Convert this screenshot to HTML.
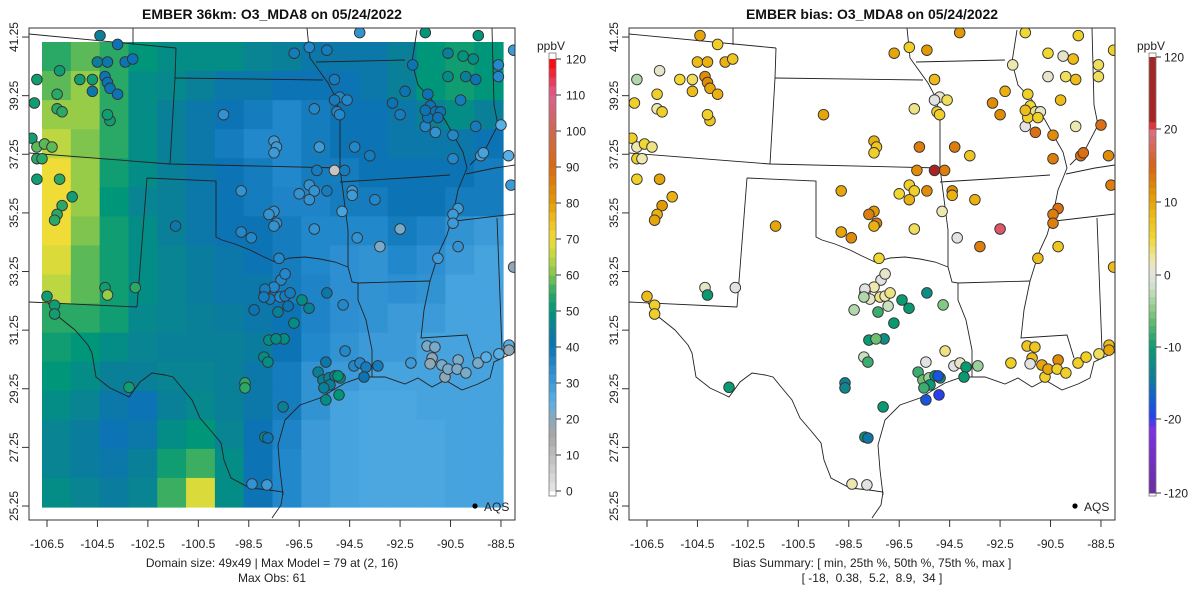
<!DOCTYPE html>
<html><head><meta charset="utf-8"><style>
body{margin:0;background:#fff;}
svg text{font-family:"Liberation Sans",sans-serif;}
</style></head><body>
<svg id="chart" width="1200" height="600" viewBox="0 0 1200 600" xmlns="http://www.w3.org/2000/svg">
<defs>
<clipPath id="clipL"><rect x="29" y="28" width="486" height="492"/></clipPath>
<clipPath id="clipR"><rect x="629" y="28" width="486" height="492"/></clipPath>
</defs>
<g id="left"></g>
<g id="right"></g>
</svg>
<script>
// ---- data ----
const gridRows = [
[55,58,55,50,48,48,48,46,45,42,42,42,45,50,52,50],
[58,62,55,48,47,45,42,42,40,40,40,42,45,50,52,50],
[62,62,55,48,45,42,40,38,35,38,40,40,42,45,48,45],
[65,60,55,48,45,42,38,35,35,38,40,40,42,42,42,40],
[70,62,52,48,45,42,40,38,35,38,38,40,40,40,40,38],
[70,62,50,46,45,42,40,38,36,36,38,38,40,40,38,38],
[70,60,52,48,45,42,40,40,38,35,35,35,38,36,32,30],
[68,58,52,48,46,44,42,40,38,35,33,32,35,33,30,28],
[65,58,52,48,46,44,42,42,38,36,33,32,33,32,28,28],
[55,55,52,47,46,45,44,42,40,36,33,32,30,30,28,28],
[52,50,48,46,45,45,45,44,40,35,32,30,30,28,28,28],
[50,48,45,45,46,46,45,42,38,32,30,28,28,28,28,28],
[48,46,42,40,45,47,45,42,38,32,28,27,27,28,28,28],
[46,44,40,42,48,50,46,40,36,30,28,27,27,27,28,28],
[46,44,42,45,52,56,48,40,35,30,28,27,27,27,28,28],
[48,46,44,46,56,68,48,40,35,30,28,27,27,27,28,28]];
const stLon = [-104.4,-103.7,-106.9,-106.0,-105.2,-104.5,-104.1,-103.4,-103.1,-104.7,-104.2,-104.1,-104.0,-103.7,-104.7,-107.0,-106.1,-106.1,-105.9,-104.0,-104.1,-107.1,-106.9,-106.6,-106.3,-106.9,-106.7,-106.9,-106.0,-105.5,-105.9,-106.1,-106.2,-106.5,-106.2,-106.2,-101.4,-104.2,-103.0,-104.1,-103.25,
-96.7,-96.1,-94.1,-95.4,-95.1,-94.9,-94.6,-95.1,-95.9,-95.0,-94.9,-99.5,-97.5,-97.4,-97.5,-95.7,-94.3,-93.7,-94.7,-95.1,-95.8,-96.1,-95.9,-96.1,-96.5,-95.4,-98.8,-97.5,-97.4,-97.7,-97.5,-98.8,-98.4,-95.9,-97.3,-94.4,-94.4,-93.5,-94.8,-92.5,-94.2,-93.3,-91.0,-90.2,-90.2,-90.4,-90.4,-89.3,-89.2,-88.2,-90.4,-91.1,-90.4,-91.5,-89.5,-88.5,-89.5,-88.6,-88.6,-91.4,-90.1,-90.6,-90.0,-89.6,-90.6,-89.9,-92.3,-92.8,-92.5,-92.0,-91.5,-89.4,-88.0,-91.3,-91.1,-90.9,-91.4,-91.0,-91.5,-88.1,-88.0,
-97.86,-97.66,-97.26,-97.06,-96.86,-97.22,-97.06,-97.5,-97.86,-97.9,-96.94,-96.39,-98.29,-97.34,-96.11,-94.76,-95.4,-96.71,-97.1,-97.7,-97.42,-97.9,-97.74,-98.65,-98.65,-95.44,-94.68,-95.75,-95.56,-95.32,-95.08,-94.88,-95.28,-95.52,-94.96,-94.92,-95.44,-94.33,-94.09,-93.85,-93.93,-93.38,-97.14,-97.86,-97.74,-98.37,-97.78,
-92.07,-91.43,-91.12,-91.23,-91.31,-90.84,-90.72,-90.6,-90.2,-90.24,-89.89,-89.41,-89.09,-88.58,-88.18,-88.18];
const stLat = [41.3,41.0,39.8,40.1,39.8,40.4,40.4,40.4,40.5,39.8,39.9,39.7,39.5,39.3,39.4,39.0,39.3,38.8,38.7,38.4,38.6,37.8,37.5,37.6,37.5,37.1,37.1,36.4,36.4,35.8,35.5,35.2,35.0,32.4,32.1,31.8,34.8,32.7,32.7,32.45,29.3,
40.7,40.9,41.4,40.8,39.8,39.2,39.1,39.1,38.8,38.7,38.6,38.6,37.7,37.5,37.3,37.5,37.5,37.2,36.7,36.7,36.7,36.2,36.0,35.7,35.9,36.0,36.0,35.3,34.9,35.2,34.8,34.6,34.4,34.7,33.7,36.0,35.85,35.7,35.3,34.7,34.4,34.1,33.7,34.1,35.4,35.2,34.9,37.2,37.3,37.2,37.1,38.0,37.9,38.2,38.2,38.25,39.8,40.3,39.9,39.3,39.1,40.7,40.6,40.5,39.9,39.9,39.4,39.0,38.6,40.3,41.4,41.3,40.8,38.9,38.7,38.7,38.5,38.5,38.75,36.2,33.4,
32.52,32.31,32.38,32.41,32.52,32.96,33.17,32.72,32.65,32.38,32.07,32.28,31.94,31.87,32.0,32.11,32.52,31.49,30.95,30.91,30.95,30.33,30.16,29.45,29.28,30.16,30.54,29.82,29.55,29.62,29.69,29.62,29.38,29.28,29.69,29.04,28.87,30.03,30.13,29.99,29.65,30.03,28.63,27.6,27.57,26.0,25.97,
30.13,30.71,30.67,30.3,30.1,30.06,29.65,29.92,30.23,29.92,29.79,30.13,30.33,30.44,30.74,30.57];
const stObs = [45,40,52,52,52,45,42,40,40,52,40,40,40,40,42,52,55,55,55,52,52,52,58,58,58,55,55,52,55,52,55,55,55,52,52,52,42,52,55,62,52,
38,35,32,38,38,35,35,38,35,35,35,32,30,30,30,30,35,38,38,8,38,32,32,32,32,38,32,32,32,32,32,35,35,32,35,30,30,35,28,22,32,22,30,32,30,30,30,28,28,25,35,32,35,35,38,25,40,35,35,40,38,45,50,48,48,45,40,40,38,40,50,50,30,40,40,40,40,40,40,30,20,
35,38,35,38,38,35,35,35,38,38,40,48,40,45,45,35,42,48,48,48,48,48,48,55,55,42,35,45,45,45,45,48,45,45,50,50,48,35,35,38,40,38,45,48,40,32,30,
30,22,22,20,20,22,20,22,22,22,22,22,25,25,25,20];
const stBias = [10,6,-3,1,5,8,9,9,7,4,12,12,10,9,8,6,6,2,6,7,6,6,2,5,3,6,2,6,10,9,11,9,10,8,6,6,10,1,0,-10,-10,
10,6,11,11,8,1,4,0,3,6,6,10,9,7,6,13,13,7,13,34,12,6,6,9,5,12,10,11,13,13,9,10,12,4,5,12,9,9,2,22,0,13,8,7,14,13,13,14,14,12,13,14,12,0,2,14,8,4,4,6,8,5,1,8,1,4,9,12,12,2,5,6,6,5,3,1,6,6,8,13,8,
0,1,3,2,3,0,1,2,0,-3,-2,-10,-3,-8,-10,-5,-12,-10,-12,-10,-6,-2,-8,-14,-13,0,3,-8,-6,-4,-10,-12,-10,-8,-18,-20,-18,0,1,-10,-10,-4,-10,-10,-15,2,0,
6,7,7,8,0,10,6,10,12,6,6,6,6,4,8,10];
const xTickLabels = ["-106.5","-104.5","-102.5","-100.5","-98.5","-96.5","-94.5","-92.5","-90.5","-88.5"];
const yTickLabels = ["25.25","27.25","29.25","31.25","33.25","35.25","37.25","39.25","41.25"];
const obsTicks = [0,10,20,30,40,50,60,70,80,90,100,110,120];
const biasTicks = [-120,-20,-10,0,10,20,120];

// ---- scales / colours ----
const X = lon => 47 + (lon + 106.5) * 25.22;
const Y = lat => 506 - (lat - 25.25) * 29.31;
function hex(h){return [parseInt(h.slice(1,3),16),parseInt(h.slice(3,5),16),parseInt(h.slice(5,7),16)];}
function ramp(stops, v){
  if(v<=stops[0][0]) return stops[0][1];
  for(let i=1;i<stops.length;i++){ if(v<=stops[i][0]){const a=stops[i-1],b=stops[i];const t=(v-a[0])/(b[0]-a[0]);const c1=hex(a[1]),c2=hex(b[1]);return 'rgb('+c1.map((c,k)=>Math.round(c+(c2[k]-c)*t)).join(',')+')';}}
  return stops[stops.length-1][1];
}
const obsStops=[[0,'#e6e6e6'],[15,'#a8a8a8'],[20,'#8fa8b8'],[25,'#56b0e6'],[30,'#3d9ad8'],[35,'#2288cc'],[40,'#0c74b4'],[45,'#0a7f98'],[50,'#00967a'],[55,'#2aa866'],[60,'#7ec44e'],[65,'#bcd742'],[70,'#efdc36'],[75,'#f0c020'],[80,'#e59a05'],[90,'#d86a10'],[100,'#cc6850'],[110,'#dd6090'],[120,'#ff0000']];
const biasStops=[[-120,'#6a2ea0'],[-30,'#8030e8'],[-20,'#2840f0'],[-17,'#1060d0'],[-14,'#107f95'],[-10,'#0a9a72'],[-6,'#6cc070'],[-2,'#c8e0c0'],[0,'#e2e2e2'],[2,'#ece8b0'],[5,'#f0d830'],[8,'#eebc18'],[11,'#e29a00'],[15,'#d86018'],[20,'#d8708a'],[26,'#e02828'],[34,'#a82424'],[120,'#a02828']];
const obsCbY = v => 491 - v/120*(491-59);
const biasPos=[[-120,493],[-20,419],[-10,347],[0,275],[10,202],[20,129],[120,57]];
function biasCbY(v){for(let i=1;i<biasPos.length;i++){if(v<=biasPos[i][0]){const a=biasPos[i-1],b=biasPos[i];return a[1]+(b[1]-a[1])*(v-a[0])/(b[0]-a[0]);}}return 57;}

const NS='http://www.w3.org/2000/svg';
function mk(parent,tag,attrs,text){const e=document.createElementNS(NS,tag);for(const k in attrs)e.setAttribute(k,attrs[k]);if(text!==undefined)e.textContent=text;parent.appendChild(e);return e;}

const borderPaths=[
"M29,34 L176,48","M133,28 L133,45","M176,48 L175,78 L170,164","M175,78 L323,80",
"M29,153 L170,164 L340,168","M147,178 L216,181 L216,237 L222,240 L235,244 L250,250 L262,256 L275,262 L290,258 L305,257 L320,259 L335,262 L348,267",
"M348,267 L352,282 L358,283 L358,300 L366,320 L372,350 L372,377",
"M147,178 L137,307","M29,302 L137,307",
"M48,303 L60,318 L75,330 L88,345 L92,353 L96,377 L110,388 L125,395 L129,397 L140,382 L152,373 L165,375 L173,377 L182,388 L192,400 L200,418 L212,432 L221,443 L224,460 L231,478 L250,488 L269,490 L283,492 L281,505 L272,518",
"M283,495 L280,470 L278,445 L285,420 L300,405 L320,398 L345,383 L362,377 L385,377 L405,384 L418,378 L432,387 L445,380 L462,390 L478,384 L490,378 L494,362 L515,352",
"M340,182 L405,178 L450,175","M358,283 L430,281",
"M430,281 L435,265 L440,250 L447,235 L452,218 L455,205 L458,190 L463,178 L467,168 L463,152 L455,138 L445,120 L432,100 L418,85 L412,62 L417,30",
"M430,281 L424,310 L421,338 L467,335 L474,358","M497,218 L502,350","M455,221 L515,214","M466,174 L495,168 L515,165",
"M316,62 L405,60","M307,28 L310,58 L328,83 L336,98 L340,120 L340,168 L348,230 L348,267",
"M492,28 L494,105 L498,125 L485,150 L470,165"];

function drawPanel(g, off, clipId, isBias){
  const gMap=mk(g,'g',{'clip-path':'url(#'+clipId+')'});
  
  
  if(!isBias){
    const nr=gridRows.length, nc=gridRows[0].length, cw=461/nc, ch=465/nr;
    gridRows.forEach((row,r)=>row.forEach((v,c)=>{
      const cell=mk(gMap,'rect',{x:(42+off+c*cw).toFixed(2),y:(42+r*ch).toFixed(2),width:(cw+0.6).toFixed(2),height:(ch+0.6).toFixed(2),fill:ramp(obsStops,v)});
      
      
    }));
  }
  const bg=mk(gMap,'g',{fill:'none',stroke:'#222','stroke-width':'0.9',transform:'translate('+off+',0)'});
  
  
  borderPaths.forEach(d=>mk(bg,'path',{d:d}));
  stLon.forEach((lon,i)=>{
    const v=isBias?stBias[i]:stObs[i];
    const c=mk(gMap,'circle',{cx:(X(lon)+off).toFixed(1),cy:Y(stLat[i]).toFixed(1),r:5.3,fill:ramp(isBias?biasStops:obsStops,v),stroke:'#333','stroke-width':'0.9'});
    
    
  });
  const fr=mk(g,'rect',{x:29+off,y:28,width:486,height:492,fill:'none',stroke:'#333','stroke-width':'1'});
  
  
  const lg=mk(g,'g',{});
  
  
  mk(lg,'circle',{cx:475+off,cy:506,r:2.6,fill:'#000'});
  mk(lg,'text',{x:484+off,y:511,'font-size':'12',fill:'#222'},'AQS');
  const xa=mk(g,'g',{});
  
  
  xTickLabels.forEach(t=>{
    const x=X(parseFloat(t))+off;
    mk(xa,'line',{x1:x,x2:x,y1:520,y2:527,stroke:'#333'});
    mk(xa,'text',{x:x,y:548,'font-size':'12','text-anchor':'middle',fill:'#222'},t);
  });
  const ya=mk(g,'g',{});
  
  
  yTickLabels.forEach(t=>{
    const y=Y(parseFloat(t));
    mk(ya,'line',{x1:22+off,x2:29+off,y1:y,y2:y,stroke:'#333'});
    mk(ya,'text',{x:0,y:0,'font-size':'12','text-anchor':'middle',fill:'#222',transform:'translate('+(18+off)+','+y+') rotate(-90)'},t);
  });
  const cb=mk(g,'g',{});
  
  
  if(!isBias){
    for(let v=0; v<120; v+=2.5){
      mk(cb,'rect',{x:549,y:obsCbY(v+2.5).toFixed(1),width:7,height:(obsCbY(v)-obsCbY(v+2.5)+0.5).toFixed(1),fill:ramp(obsStops,v+1.25)});
    }
    mk(cb,'rect',{x:549,y:53,width:7,height:443,fill:'none',stroke:'#777','stroke-width':'0.8'});
    obsTicks.forEach(t=>{const y=obsCbY(t);mk(cb,'line',{x1:556,x2:561,y1:y,y2:y,stroke:'#333'});mk(cb,'text',{x:566,y:y+4.5,'font-size':'12',fill:'#222'},String(t));});
  } else {
    for(let k=0;k<biasPos.length-1;k++){
      const a=biasPos[k][0],b=biasPos[k+1][0];
      for(let s=0;s<10;s++){const v0=a+(b-a)*s/10,v1=a+(b-a)*(s+1)/10;
        mk(cb,'rect',{x:1149,y:biasCbY(v1).toFixed(1),width:7,height:(biasCbY(v0)-biasCbY(v1)+0.5).toFixed(1),fill:ramp(biasStops,(v0+v1)/2)});}
    }
    mk(cb,'rect',{x:1149,y:53,width:7,height:443,fill:'none',stroke:'#777','stroke-width':'0.8'});
    biasTicks.forEach(t=>{const y=biasCbY(t);mk(cb,'line',{x1:1156,x2:1161,y1:y,y2:y,stroke:'#333'});mk(cb,'text',{x:1164,y:y+4.5,'font-size':'12',fill:'#222'},String(t));});
  }
  mk(cb,'text',{x:551+off,y:50,'font-size':'12','text-anchor':'middle',fill:'#222'},'ppbV');
}
const L=document.getElementById('left'), R=document.getElementById('right');
drawPanel(L,0,'clipL',false);
drawPanel(R,600,'clipR',true);
</script>
<div style="position:absolute;left:0;top:0;width:1200px;height:600px;pointer-events:none;font-family:'Liberation Sans',sans-serif;color:#222;">
<div style="position:absolute;left:0;width:544px;top:6px;text-align:center;font-weight:bold;font-size:14px;color:#111;">EMBER 36km: O3_MDA8 on 05/24/2022</div>
<div style="position:absolute;left:600px;width:544px;top:6px;text-align:center;font-weight:bold;font-size:14px;color:#111;">EMBER bias: O3_MDA8 on 05/24/2022</div>
<div style="position:absolute;left:0;width:544px;top:556px;text-align:center;font-size:12px;line-height:15px;">Domain size: 49x49 | Max Model = 79 at (2, 16)<br>Max Obs: 61</div>
<div style="position:absolute;left:600px;width:544px;top:556px;text-align:center;font-size:12px;line-height:15px;">Bias Summary: [ min, 25th %, 50th %, 75th %, max ]<br>[ -18,&nbsp;&nbsp;0.38,&nbsp;&nbsp;5.2,&nbsp;&nbsp;8.9,&nbsp;&nbsp;34 ]</div>
</div>
</body></html>
